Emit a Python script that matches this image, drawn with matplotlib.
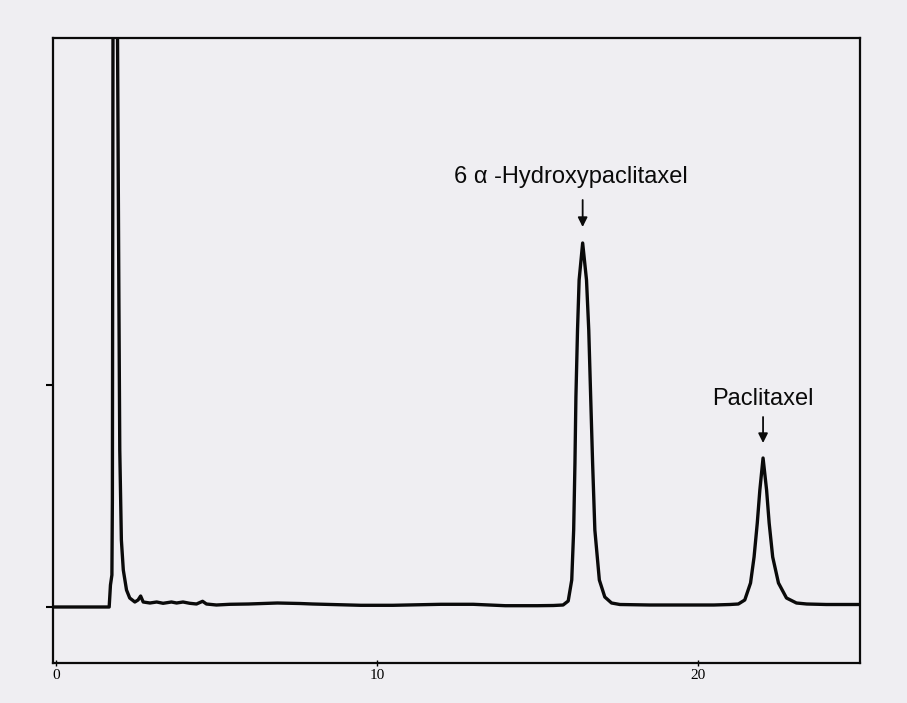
import matplotlib.pyplot as plt

# chromatogram trace (retention time in min, detector signal in arbitrary units)
time_min = [
    -0.09, 1.66, 1.70, 1.745, 1.76, 1.78, 1.85, 1.915, 1.963, 1.99, 2.04, 2.10,
    2.20, 2.30, 2.46, 2.56, 2.64, 2.72, 2.93, 3.14, 3.34, 3.60, 3.76, 3.96,
    4.17, 4.38, 4.57, 4.69, 5.0, 5.42, 6.0, 6.9, 7.6, 8.0, 9.5, 10.5,
    12.0, 13.0, 14.0, 15.0, 15.5, 15.80, 15.96, 16.07, 16.13, 16.17, 16.20, 16.25,
    16.30, 16.41, 16.53, 16.60, 16.66, 16.72, 16.79, 16.93, 17.10, 17.31, 17.57, 18.5,
    19.5, 20.5, 21.0, 21.26, 21.46, 21.64, 21.75, 21.85, 21.93, 22.03, 22.14, 22.22,
    22.33, 22.51, 22.76, 23.07, 23.39, 24.0, 25.05,
]
signal = [
    0, 0, 22, 32, 107, 600, 1400, 600, 307, 157, 67, 37,
    17, 9, 5, 7, 11, 5, 4, 5, 3.7, 5, 4, 5,
    3.7, 3, 5.7, 3, 2, 2.7, 3, 4, 3.5, 3, 1.7, 1.7,
    2.7, 2.7, 1.3, 1.3, 1.5, 2, 6, 27, 77, 144, 210, 277,
    327, 364, 327, 277, 210, 144, 77, 27, 10, 4, 2.5, 2,
    2, 2, 2.5, 3, 7, 24, 50, 84, 117, 149, 117, 84,
    50, 24, 9, 4, 3, 2.5, 2.5,
]

peak_names = ['6 \u03b1 -Hydroxypaclitaxel', 'Paclitaxel']
peak_times = [16.41, 22.03]
label_times = [16.04, 22.01]
label_heights = [424, 202]
arrow_tops = [407, 190]
arrow_tips = [380, 164]

xticks = [0, 10, 20]
xtick_labels = ['0', '10', '20']

bg = '#efeef2'
fig = plt.figure(figsize=(9.07, 7.03), dpi=100, facecolor=bg)
ax = fig.add_axes([53 / 907, 1 - 663 / 703, (860 - 53) / 907, (663 - 38) / 703])
ax.set_facecolor(bg)

ax.plot(time_min, signal, color='#0a0a0a', lw=2.4, solid_joinstyle='round')

# peak labels with arrows
for name, t, lt, lh, top, tip in zip(peak_names, peak_times, label_times,
                                      label_heights, arrow_tops, arrow_tips):
    ax.text(lt, lh, name, ha='center', va='baseline', fontsize=17,
            family='Liberation Sans', color='#0a0a0a')
    ax.annotate('', xy=(t, tip), xytext=(t, top),
                arrowprops=dict(arrowstyle='-|>', color='#0a0a0a', lw=1.3,
                                mutation_scale=14, shrinkA=0, shrinkB=0))

ax.set_xlim(-0.09, 25.05)
ax.set_ylim(-56, 569)

for s in ax.spines.values():
    s.set_linewidth(1.6)
    s.set_color('#0a0a0a')

ax.set_xticks(xticks)
ax.set_xticklabels(xtick_labels, family='Liberation Serif', fontsize=11)
ax.tick_params(axis='x', direction='inout', length=4, width=1, pad=2)
ax.set_yticks([0, 222])
ax.set_yticklabels([])
ax.tick_params(axis='y', direction='out', length=5, width=1.5)

fig.savefig('out.png', dpi=100, facecolor=bg)
